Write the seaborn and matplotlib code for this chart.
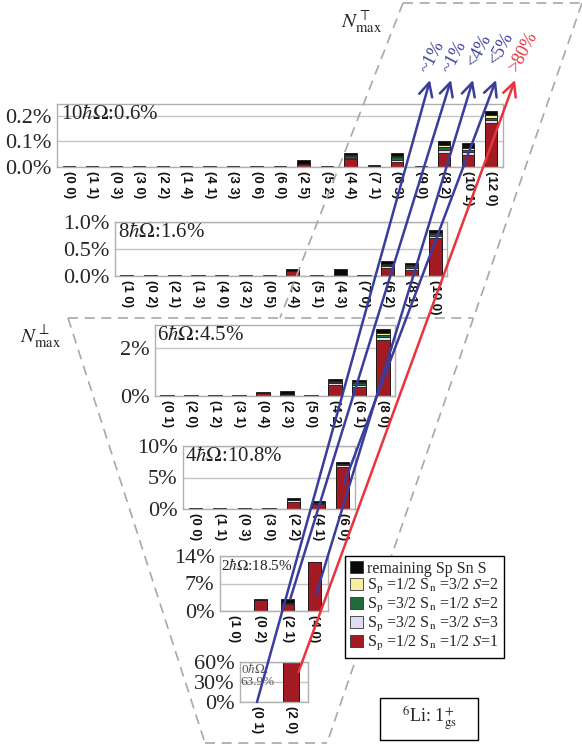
import numpy as np
import seaborn as sns
import matplotlib.pyplot as plt
from matplotlib.patches import Patch, Rectangle, ConnectionPatch
from matplotlib.lines import Line2D

# --- dati (percentuali) ---
# ordine di impilamento dal basso: S=1, S=3, Sp=3/2 S=2, Sp=1/2 S=2, resto
irreps_10 = ["(0 0)", "(1 1)", "(0 3)", "(3 0)", "(2 2)", "(1 4)", "(4 1)", "(3 3)", "(0 6)", "(6 0)",
             "(2 5)", "(5 2)", "(4 4)", "(7 1)", "(6 3)", "(9 0)", "(8 2)", "(10 1)", "(12 0)"]
s11_10 = [0, 0, 0, 0, 0, 0, 0, 0, 0, 0, 0.013, 0, 0.030, 0, 0.019, 0, 0.055, 0.047, 0.173]
s33_10 = [0, 0, 0, 0, 0, 0, 0, 0, 0, 0, 0, 0, 0.006, 0, 0.010, 0, 0.013, 0.010, 0.010]
s31_10 = [0, 0, 0, 0, 0, 0, 0, 0, 0, 0, 0, 0, 0.006, 0, 0.009, 0, 0.009, 0.009, 0.008]
s13_10 = [0, 0, 0, 0, 0, 0, 0, 0, 0, 0, 0, 0, 0.005, 0, 0.006, 0, 0.009, 0.008, 0.010]
rest_10 = [0.002, 0.002, 0.002, 0.002, 0.003, 0.002, 0.003, 0.004, 0.003, 0.003,
           0.013, 0.005, 0.009, 0.006, 0.010, 0.003, 0.014, 0.018, 0.017]

irreps_8 = ["(1 0)", "(0 2)", "(2 1)", "(1 3)", "(4 0)", "(3 2)", "(0 5)", "(2 4)", "(5 1)", "(4 3)",
            "(7 0)", "(6 2)", "(8 1)", "(10 0)"]
s11_8 = [0, 0, 0, 0, 0, 0, 0, 0.09, 0, 0.012, 0, 0.14, 0.11, 0.70]
s33_8 = [0, 0, 0, 0, 0, 0, 0, 0, 0, 0, 0, 0.04, 0.03, 0.05]
s31_8 = [0, 0, 0, 0, 0, 0, 0, 0, 0, 0, 0, 0.03, 0.04, 0.03]
s13_8 = [0, 0, 0, 0, 0, 0, 0, 0, 0, 0, 0, 0.02, 0.015, 0.02]
rest_8 = [0.012, 0.012, 0.012, 0.012, 0.015, 0.015, 0.012, 0.035, 0.015, 0.11, 0.015, 0.05, 0.05, 0.06]

irreps_6 = ["(0 1)", "(2 0)", "(1 2)", "(3 1)", "(0 4)", "(2 3)", "(5 0)", "(4 2)", "(6 1)", "(8 0)"]
s11_6 = [0, 0, 0, 0, 0.12, 0.08, 0, 0.455, 0.39, 2.32]
s33_6 = [0, 0, 0, 0, 0, 0, 0, 0.08, 0.08, 0.12]
s31_6 = [0, 0, 0, 0, 0, 0, 0, 0.05, 0.06, 0.08]
s13_6 = [0, 0, 0, 0, 0, 0, 0, 0.04, 0.04, 0.08]
rest_6 = [0.03, 0.03, 0.03, 0.03, 0.03, 0.12, 0.03, 0.10, 0.11, 0.17]

irreps_4 = ["(0 0)", "(1 1)", "(0 3)", "(3 0)", "(2 2)", "(4 1)", "(6 0)"]
s11_4 = [0, 0, 0, 0, 1.1, 0.73, 6.67]
s33_4 = [0, 0, 0, 0, 0.25, 0.2, 0.25]
s31_4 = [0, 0, 0, 0, 0.05, 0.04, 0.1]
s13_4 = [0, 0, 0, 0, 0.05, 0.03, 0.05]
rest_4 = [0.08, 0.08, 0.08, 0.08, 0.3, 0.3, 0.45]

irreps_2 = ["(1 0)", "(0 2)", "(2 1)", "(4 0)"]
s11_2 = [0, 2.85, 1.9, 12.4]
s33_2 = [0, 0, 0.1, 0]
s31_2 = [0, 0, 0, 0]
s13_2 = [0, 0, 0, 0]
rest_2 = [0.1, 0.2, 1.0, 0.05]

irreps_0 = ["(0 1)", "(2 0)"]
s11_0 = [0, 63.9]
s33_0 = [0, 0]
s31_0 = [0, 0]
s13_0 = [0, 0]
rest_0 = [0.5, 0]

shell_titles = [r"10$\hbar\mathit{\Omega}$:0.6%", r"8$\hbar\mathit{\Omega}$:1.6%",
                r"6$\hbar\mathit{\Omega}$:4.5%", r"4$\hbar\mathit{\Omega}$:10.8%",
                r"2$\hbar\mathit{\Omega}$:18.5%", "0$\\hbar\\mathit{\\Omega}$:\n63.9%"]
yticks_10 = [0, 0.1, 0.2]
ytick_labels_10 = ["0.0%", "0.1%", "0.2%"]
yticks_8 = [0, 0.5, 1.0]
ytick_labels_8 = ["0.0%", "0.5%", "1.0%"]
yticks_6 = [0, 2]
ytick_labels_6 = ["0%", "2%"]
yticks_4 = [0, 5, 10]
ytick_labels_4 = ["0%", "5%", "10%"]
yticks_2 = [0, 7, 14]
ytick_labels_2 = ["0%", "7%", "14%"]
yticks_0 = [0, 30, 60]
ytick_labels_0 = ["0%", "30%", "60%"]

legend_labels = ["remaining Sp Sn S",
                 r"S$_\mathrm{p}$ =1/2 S$_\mathrm{n}$ =3/2 $S$=2",
                 r"S$_\mathrm{p}$ =3/2 S$_\mathrm{n}$ =1/2 $S$=2",
                 r"S$_\mathrm{p}$ =3/2 S$_\mathrm{n}$ =3/2 $S$=3",
                 r"S$_\mathrm{p}$ =1/2 S$_\mathrm{n}$ =1/2 $S$=1"]
arrow_labels = ["~1%", "~1%", "<4%", "<5%", ">80%"]

# colori: S=1, S=3, Sp=3/2 S=2, Sp=1/2 S=2, resto
comp_colors = ["#a31b22", "#dedcf0", "#1e6b3c", "#f5efa4", "#0a0a0a"]
blue = "#3a3d9c"
red = "#e8343c"
dash_gray = "#a8a8a8"

W, H = 582, 749


def fx(x):
    return x / W


def fy(y):
    return 1 - y / H


def box(left, top, right, bottom):
    return [fx(left), fy(bottom), (right - left) / W, (bottom - top) / H]


def draw_panel(ax, labels, parts, ymax, yticks, ytlabels, bar_w, title, title_size):
    cum = np.cumsum(np.array(parts, dtype=float), axis=0)
    # si disegna dal cumulato più alto verso il basso
    for level in range(len(parts) - 1, -1, -1):
        sns.barplot(x=labels, y=cum[level], order=labels, color=comp_colors[level],
                    saturation=1, width=bar_w, edgecolor="#1a1a1a", linewidth=0.6,
                    errorbar=None, ax=ax)
    n = len(labels)
    ax.set_xlim(-0.5, n - 0.5)
    ax.set_ylim(0, ymax)
    ax.set_yticks(yticks)
    ax.set_yticklabels(ytlabels, fontsize=16)
    ax.set_xticks(np.arange(n))
    ax.set_xticklabels(labels, rotation=-90, fontsize=9.5, family="Liberation Sans",
                       fontweight="bold", color="#111111")
    ax.set_xticks(np.arange(n + 1) - 0.5, minor=True)
    ax.tick_params(axis="x", which="major", length=0, pad=3)
    ax.tick_params(axis="x", which="minor", length=5, color="#a0a0a0", width=0.9)
    ax.tick_params(axis="y", length=3, color="#a0a0a0", pad=1)
    ax.set_xlabel("")
    ax.set_ylabel("")
    ax.yaxis.grid(True, color="#c4c4c4", lw=1.0)
    ax.set_axisbelow(True)
    for sp in ax.spines.values():
        sp.set_visible(True)
        sp.set_color("#b0b0b0")
        sp.set_linewidth(1.0)
    color = "#555555" if title_size < 10 else "#222222"
    ax.text(0.01, 0.99, title, transform=ax.transAxes, ha="left", va="top",
            fontsize=title_size, color=color, linespacing=0.95)


def main():
    sns.set_theme(style="white")
    plt.rcParams["font.family"] = ["Liberation Serif", "DejaVu Serif"]
    plt.rcParams["mathtext.fontset"] = "stix"

    fig = plt.figure(figsize=(W / 100, H / 100), dpi=100)
    fig.patch.set_facecolor("white")

    panels = [
        (box(57, 104, 503, 167), irreps_10, [s11_10, s33_10, s31_10, s13_10, rest_10], 0.245,
         yticks_10, ytick_labels_10, 0.52, shell_titles[0], 15),
        (box(115, 222, 447, 276), irreps_8, [s11_8, s33_8, s31_8, s13_8, rest_8], 1.0,
         yticks_8, ytick_labels_8, 0.56, shell_titles[1], 15),
        (box(155, 325, 395, 396), irreps_6, [s11_6, s33_6, s31_6, s13_6, rest_6], 2.95,
         yticks_6, ytick_labels_6, 0.55, shell_titles[2], 15),
        (box(183, 446, 355, 509), irreps_4, [s11_4, s33_4, s31_4, s13_4, rest_4], 10,
         yticks_4, ytick_labels_4, 0.54, shell_titles[3], 15),
        (box(220, 556, 328, 611), irreps_2, [s11_2, s33_2, s31_2, s13_2, rest_2], 14,
         yticks_2, ytick_labels_2, 0.49, shell_titles[4], 11),
        (box(240, 662, 308, 702), irreps_0, [s11_0, s33_0, s31_0, s13_0, rest_0], 60,
         yticks_0, ytick_labels_0, 0.47, shell_titles[5], 9.5),
    ]
    axes = []
    for rect, labels, parts, ymax, yt, ytl, bw, title, tsize in panels:
        ax = fig.add_axes(rect)
        draw_panel(ax, labels, parts, ymax, yt, ytl, bw, title, tsize)
        axes.append(ax)
    ax10, ax8, ax6, ax4, ax2, ax0 = axes

    # contorni tratteggiati (N_max perpendicolare / parallelo)
    dashed = [
        ((403, 3), (582, 3)),
        ((582, 3), (327, 743)),
        ((403, 3), (280, 318)),
        ((68, 318), (473, 318)),
        ((68, 318), (205, 743)),
        ((205, 743), (327, 743)),
    ]
    for (x0, y0), (x1, y1) in dashed:
        fig.add_artist(Line2D([fx(x0), fx(x1)], [fy(y0), fy(y1)], transform=fig.transFigure,
                              color=dash_gray, lw=1.2, ls=(0, (6, 4)), zorder=1))

    fig.text(fx(362), fy(22), r"$N_{\mathrm{max}}^{\top}$", ha="center", va="center", fontsize=15)
    fig.text(fx(41), fy(337), r"$N_{\mathrm{max}}^{\perp}$", ha="center", va="center", fontsize=15)

    # frecce delle irreps simplettiche
    starts = [
        (ax0, irreps_0.index("(0 1)"), 0),
        (ax2, irreps_2.index("(2 1)") + 0.1, 3.0),
        (ax2, irreps_2.index("(4 0)") + 0.05, 4.0),
        (ax4, irreps_4.index("(6 0)") + 0.05, 4.0),
        (ax0, irreps_0.index("(2 0)") + 0.22, 45),
    ]
    tips_x = [430, 451, 473, 496, 515]
    label_pos = [(432, 57), (454, 57), (479, 51), (501, 49), (523, 52)]
    colors = [blue, blue, blue, blue, red]
    for (ax, xs, ys), tx, (lx, ly), col, txt in zip(starts, tips_x, label_pos, colors, arrow_labels):
        con = ConnectionPatch(xyA=(xs, ys), coordsA=ax.transData,
                              xyB=(fx(tx), fy(80)), coordsB=fig.transFigure,
                              arrowstyle="->,head_length=0.8,head_width=0.4",
                              color=col, lw=1.8, mutation_scale=12,
                              shrinkA=0, shrinkB=0, zorder=4)
        fig.add_artist(con)
        fig.text(fx(lx), fy(ly), txt, color=col, fontsize=13, rotation=62,
                 ha="center", va="center")

    # legenda
    handles = [Patch(facecolor=comp_colors[i], edgecolor="#333333", lw=0.6)
               for i in [4, 3, 2, 1, 0]]
    leg = fig.legend(handles, legend_labels, loc="upper left",
                     bbox_to_anchor=(fx(345), fy(556)), fontsize=11.5,
                     frameon=True, fancybox=False, framealpha=1,
                     handlelength=0.8, handleheight=0.8, handletextpad=0.3,
                     labelspacing=0.0, borderpad=0.3, borderaxespad=0)
    leg.get_frame().set_edgecolor("black")
    leg.get_frame().set_linewidth(1.0)

    # riquadro 6Li
    fig.add_artist(Rectangle((fx(380), fy(740)), 98 / W, 42 / H, transform=fig.transFigure,
                             facecolor="white", edgecolor="black", lw=1.0, zorder=3))
    fig.text(fx(429), fy(719), r"$^{6}$Li: 1$^{+}_{\mathrm{gs}}$", ha="center", va="center",
             fontsize=13, zorder=4)

    fig.savefig("out.png", dpi=100, facecolor="white")
    plt.close(fig)


if __name__ == "__main__":
    main()
